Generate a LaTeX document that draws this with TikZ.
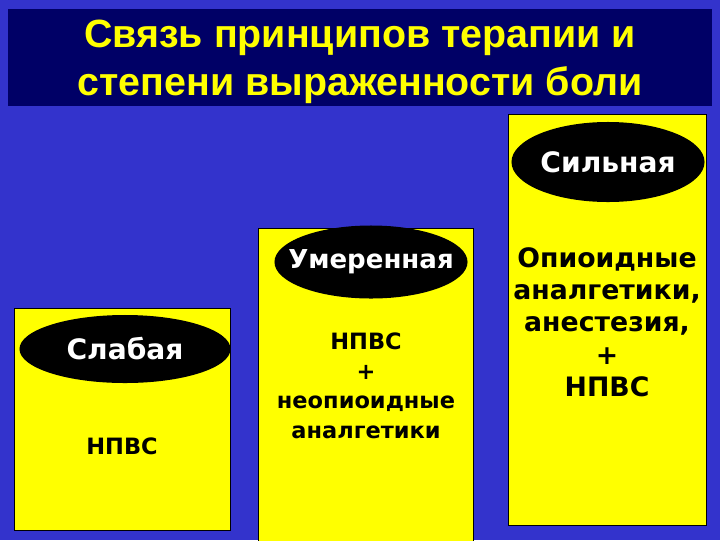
\documentclass[tikz,border=0pt]{standalone}
\usepackage{fontspec}
\setmainfont{DejaVu Sans}
\newfontfamily\titlefont{Liberation Sans}
\usetikzlibrary{shapes.geometric}
\definecolor{slideblue}{RGB}{51,51,204}
\definecolor{navy}{RGB}{0,0,102}
\definecolor{lemon}{RGB}{255,255,0}
\tikzset{
    titlebox/.style = {fill=navy, draw=none, inner sep=0pt, anchor=north west,
            minimum width=17.6cm, minimum height=2.425cm},
    colbox/.style   = {fill=lemon, draw=black, thin, inner sep=0pt, anchor=north west},
    level/.style    = {ellipse, fill=black, draw=none, inner sep=0pt},
    leveltext/.style = {text=white, inner sep=0pt, font=\bfseries\fontsize{20}{24}\selectfont},
    drug/.style     = {align=center, text=black, inner sep=0pt},
}
\begin{document}
\begin{tikzpicture}[x=0.025cm, y=-0.025cm]
    \clip (0,0) rectangle (720,540);
    \useasboundingbox (0,0) rectangle (720,540);
    \fill[slideblue] (0,0) rectangle (720,540);
    % Title
    \node[titlebox] (head) at (8,9) {};
    \node[align=center, text=lemon, font=\titlefont\bfseries\fontsize{28}{34}\selectfont]
        (title) at (360,62) {Связь принципов терапии и\\степени выраженности боли};
    % Columns
    \node[colbox, minimum width=5.4cm, minimum height=5.55cm] (weak) at (14,308) {};
    \node[colbox, minimum width=5.375cm, minimum height=7.925cm] (moderate) at (258,228) {};
    \node[colbox, minimum width=4.95cm, minimum height=10.275cm] (strong) at (508,114) {};
    % Levels
    \node[level, minimum width=5.275cm, minimum height=1.7cm] (weakE) at (125,349) {};
    \node[level, minimum width=4.825cm, minimum height=1.825cm] (moderateE) at (371,262) {};
    \node[level, minimum width=4.825cm, minimum height=2cm] (strongE) at (608,162) {};
    \node[leveltext] (weakT) at (weakE.center) {Слабая};
    \node[leveltext, font=\bfseries\fontsize{18.5}{22}\selectfont] (moderateT) at (moderateE.center) {Умеренная};
    \node[leveltext] (strongT) at (strongE.center) {Сильная};
    % Drugs
    \node[drug, font=\bfseries\fontsize{16}{21}\selectfont] (weakD) at (122,446) {НПВС};
    \node[drug, font=\bfseries\fontsize{16}{21}\selectfont] (moderateD) at (366,386)
        {НПВС\\+\\неопиоидные\\аналгетики};
    \node[drug, font=\bfseries\fontsize{19}{23}\selectfont] (strongD) at (607,322)
        {Опиоидные\\аналгетики,\\анестезия,\\+\\НПВС};
\end{tikzpicture}
\end{document}
